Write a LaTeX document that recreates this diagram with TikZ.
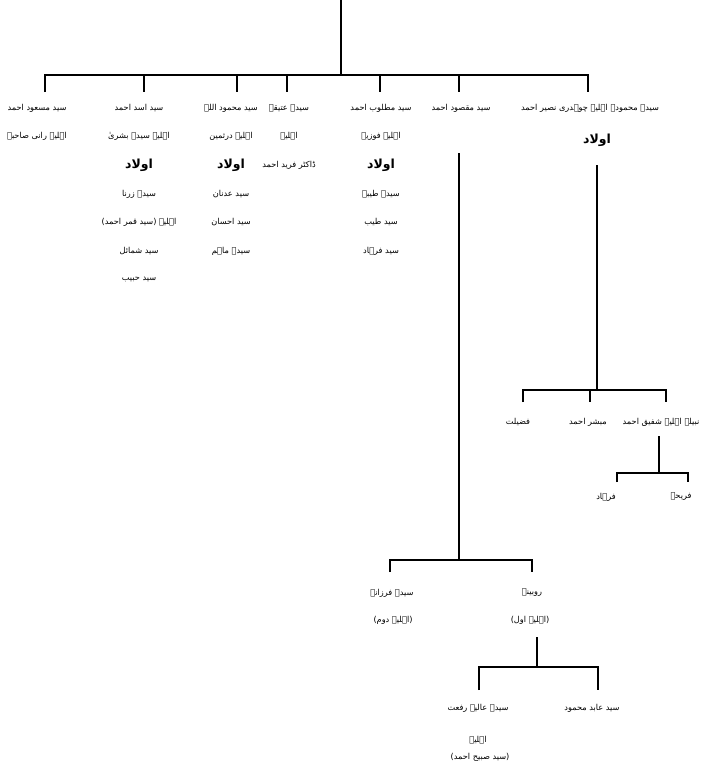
\documentclass[tikz,border=0pt]{standalone}
\usepackage{fontspec}
\newfontfamily\urdufont[Script=Arabic]{DejaVu Sans}
\TeXXeTstate=1
\newcommand\urt[1]{{\urdufont\beginR #1\endR}}
\newcommand\urb[1]{{\urdufont\bfseries\beginR #1\endR}}
\begin{document}
\begin{tikzpicture}[x=1pt,y=-1pt,
  ln/.style={line width=2.6pt},
  nm/.style={inner sep=1pt, font=\fontsize{8.2}{10}\selectfont},
  bd/.style={inner sep=1pt, font=\fontsize{12.5}{14}\selectfont}]
\useasboundingbox[fill=white] (0,0) rectangle (704,779);

% ---------- first generation ----------
\node[nm] (a1) at (37,108) {\urt{سید مسعود احمد}};
\node[nm] (a2) at (37,136) {\urt{اہلیہ رانی صاحبہ}};

\node[nm] (b1) at (139,108) {\urt{سید اسد احمد}};
\node[nm] (b2) at (139,136) {\urt{اہلیہ سیدہ بشریٰ}};
\node[bd] (b3) at (139,165) {\urb{اولاد}};
\node[nm] (b4) at (139,194) {\urt{سیدہ زرنا}};
\node[nm] (b5) at (139,222) {\urt{اہلیہ (سید قمر احمد)}};
\node[nm] (b6) at (139,251) {\urt{سید شمائل}};
\node[nm] (b7) at (139,279) {\urt{سید حبیب}};

\node[nm] (c1) at (231,108) {\urt{سید محمود اللہ}};
\node[nm] (c2) at (231,136) {\urt{اہلیہ درثمین}};
\node[bd] (c3) at (231,165) {\urb{اولاد}};
\node[nm] (c4) at (231,194) {\urt{سید عدنان}};
\node[nm] (c5) at (231,222) {\urt{سید احسان}};
\node[nm] (c6) at (231,251) {\urt{سیدہ ماہم}};

\node[nm] (d1) at (289,108) {\urt{سیدہ عتیقہ}};
\node[nm] (d2) at (289,136) {\urt{اہلیہ}};
\node[nm] (d3) at (289,165) {\urt{ڈاکٹر فرید احمد}};

\node[nm] (e1) at (381,108) {\urt{سید مطلوب احمد}};
\node[nm] (e2) at (381,136) {\urt{اہلیہ فوزیہ}};
\node[bd] (e3) at (381,165) {\urb{اولاد}};
\node[nm] (e4) at (381,194) {\urt{سیدہ طیبہ}};
\node[nm] (e5) at (381,222) {\urt{سید طیب}};
\node[nm] (e6) at (381,251) {\urt{سید فرہاد}};

\node[nm] (f1) at (461,108) {\urt{سید مقصود احمد}};

\node[nm] (g1) at (590,108) {\urt{سیدہ محمودہ اہلیہ چوہدری نصیر احمد}};
\node[bd] (g2) at (597,140) {\urb{اولاد}};

% ---------- children of g ----------
\node[nm] (h1) at (518,422) {\urt{فضیلت}};
\node[nm] (h2) at (588,422) {\urt{مبشر احمد}};
\node[nm] (h3) at (661,422) {\urt{نبیلہ اہلیہ شفیق احمد}};
\node[nm] (i1) at (606,497) {\urt{فرہاد}};
\node[nm] (i2) at (681,497) {\urt{فریحہ}};

% ---------- children of f ----------
\node[nm] (j1) at (392,593) {\urt{سیدہ فرزانہ}};
\node[nm] (j2) at (393,620) {\urt{(اہلیہ دوم)}};
\node[nm] (k1) at (532,593) {\urt{روبینہ}};
\node[nm] (k2) at (530,620) {\urt{(اہلیہ اول)}};

\node[nm] (l1) at (478,708) {\urt{سیدہ عالیہ رفعت}};
\node[nm] (l2) at (478,740) {\urt{اہلیہ}};
\node[nm] (l3) at (480,757) {\urt{(سید صبیح احمد)}};
\node[nm] (m1) at (592,708) {\urt{سید عابد محمود}};

% ---------- connectors ----------
\coordinate (top) at (341,0);
\coordinate (j0) at (341,75);
\draw[ln] (top) -- (j0);
\draw[ln] (45,92) -- (45,75) -- (588,75) -- (588,92);
\foreach \x in {144,237,287,380,459} \draw[ln] (\x,75) -- (\x,92);

% f line
\coordinate (fs) at (459,153);
\coordinate (fe) at (459,560);
\draw[ln] (fs) -- (fe);
\draw[ln] (390,572) -- (390,560) -- (532,560) -- (532,572);

% k to grandchildren
\coordinate (ks) at (537,637);
\coordinate (ke) at (537,667);
\draw[ln] (ks) -- (ke);
\draw[ln] (479,690) -- (479,667) -- (598,667) -- (598,690);

% g line
\coordinate (gs) at (597,165);
\coordinate (ge) at (597,390);
\draw[ln] (gs) -- (ge);
\draw[ln] (523,402) -- (523,390) -- (666,390) -- (666,402);
\draw[ln] (590,390) -- (590,402);

% h3 to its children
\coordinate (hs) at (659,436);
\coordinate (he) at (659,473);
\draw[ln] (hs) -- (he);
\draw[ln] (617,482) -- (617,473) -- (688,473) -- (688,482);
\end{tikzpicture}
\end{document}
